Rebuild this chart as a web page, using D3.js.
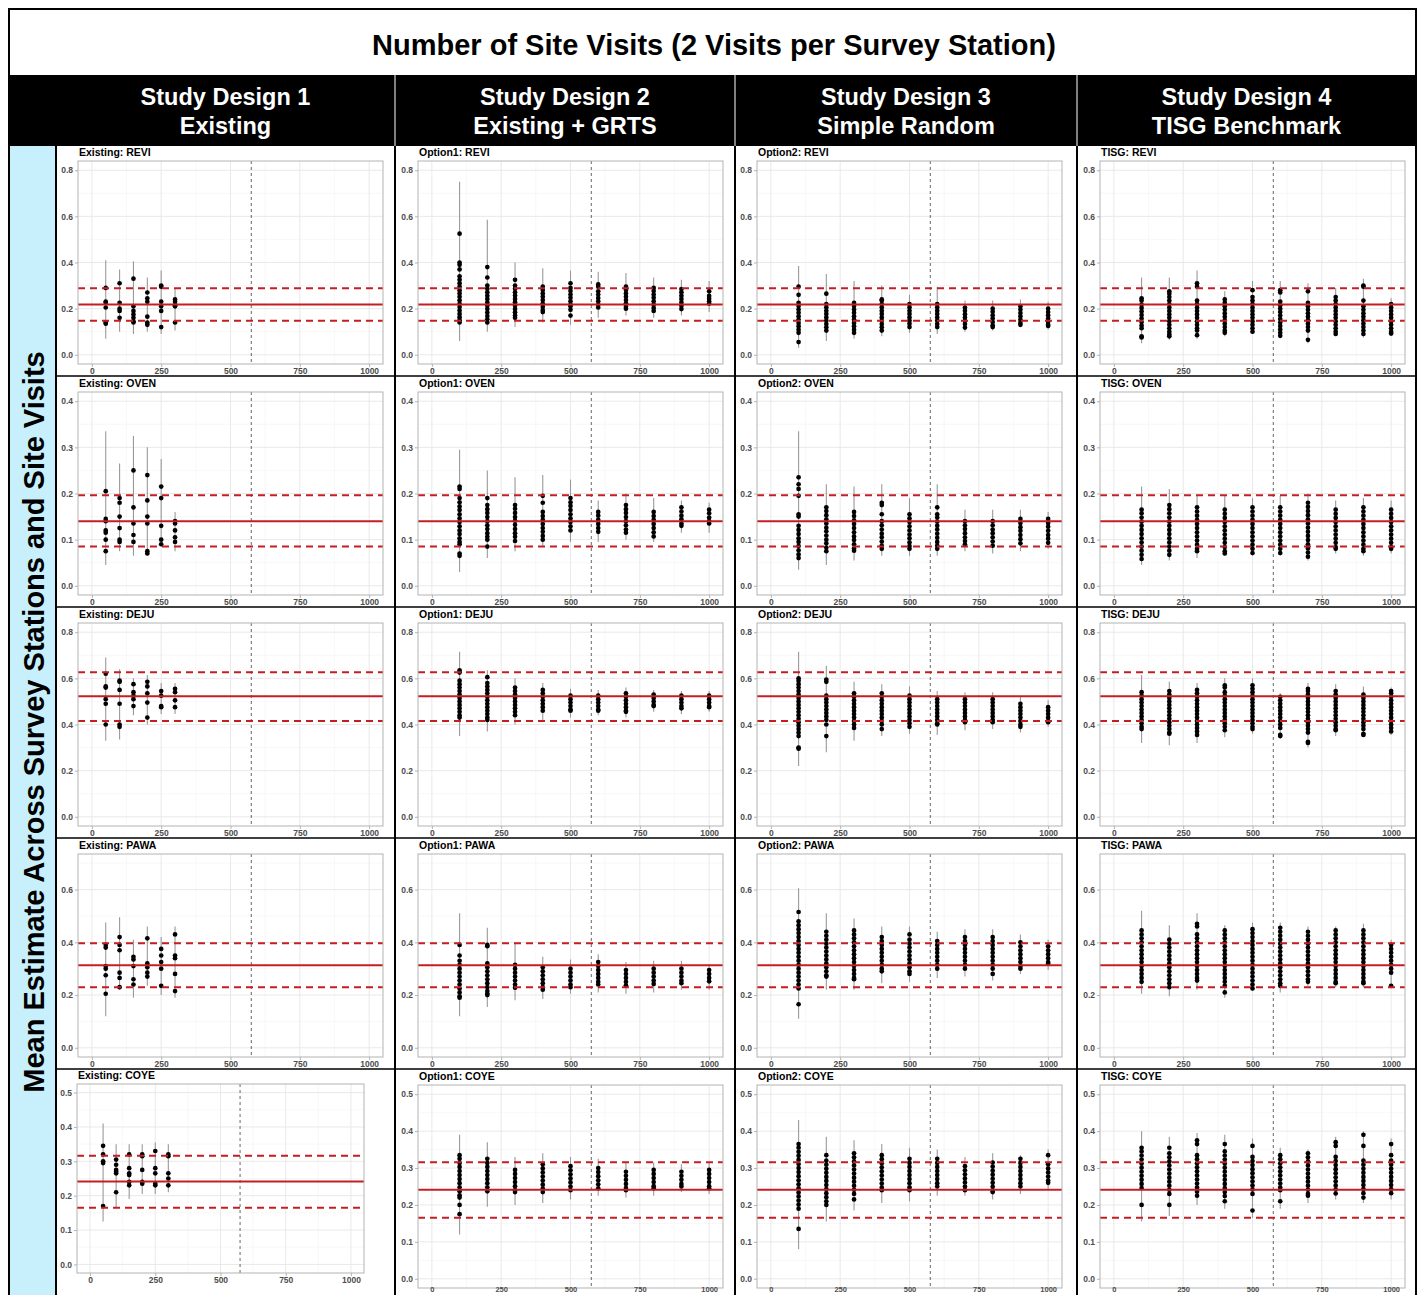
<!DOCTYPE html>
<html lang="en">
<head>
<meta charset="UTF-8">
<title>Number of Site Visits</title>
<script src="https://d3js.org/d3.v7.min.js"></script>
<style>
  body { margin: 0; background: #fff; }
  svg text { font-family: "Liberation Sans", Arial, sans-serif; }
</style>
</head>
<body>
<svg id="chart" width="1421" height="1295"></svg>
<script>
// ---- data ----
const mainTitle = "Number of Site Visits (2 Visits per Survey Station)";
const sideTitle = "Mean Estimate Across Survey Stations and Site Visits";
const designs = ["Existing", "Option1", "Option2", "TISG"];
const designHeads = [["Study Design 1", "Existing"], ["Study Design 2", "Existing + GRTS"],
                     ["Study Design 3", "Simple Random"], ["Study Design 4", "TISG Benchmark"]];
const species = ["REVI", "OVEN", "DEJU", "PAWA", "COYE"];
const yLimit = [0.8, 0.4, 0.8, 0.7, 0.5];
const yTicks = [[0, 0.2, 0.4, 0.6, 0.8], [0, 0.1, 0.2, 0.3, 0.4], [0, 0.2, 0.4, 0.6, 0.8],
                [0, 0.2, 0.4, 0.6], [0, 0.1, 0.2, 0.3, 0.4, 0.5]];
const truth = [0.218, 0.14, 0.522, 0.313, 0.241];
const bandLow = [0.148, 0.085, 0.415, 0.23, 0.165];
const bandHigh = [0.288, 0.196, 0.627, 0.396, 0.316];
const xTicks = [0, 250, 500, 750, 1000];
const cutoff = 575;
const sizesExisting = [50, 100, 150, 200, 250, 300];
const sizesOther = [100, 200, 300, 400, 500, 600, 700, 800, 900, 1000];

// each column: [ci low, ci high, [estimates]]
const existingREVI = [
  [0.07, 0.41, [0.29, 0.23, 0.225, 0.205, 0.14, 0.135]],
  [0.10, 0.37, [0.31, 0.225, 0.2, 0.19, 0.16]],
  [0.09, 0.405, [0.33, 0.21, 0.19, 0.175, 0.16, 0.145, 0.14]],
  [0.10, 0.335, [0.27, 0.245, 0.23, 0.165, 0.14, 0.13]],
  [0.09, 0.365, [0.30, 0.295, 0.23, 0.21, 0.19, 0.12]],
  [0.105, 0.285, [0.24, 0.23, 0.215, 0.21, 0.14]]
];
const existingOVEN = [
  [0.045, 0.335, [0.205, 0.145, 0.14, 0.12, 0.115, 0.10, 0.075]],
  [0.075, 0.265, [0.19, 0.18, 0.15, 0.125, 0.10, 0.095]],
  [0.065, 0.325, [0.25, 0.17, 0.135, 0.11, 0.095]],
  [0.065, 0.30, [0.24, 0.185, 0.15, 0.135, 0.075, 0.07]],
  [0.085, 0.275, [0.215, 0.19, 0.13, 0.10, 0.09]],
  [0.075, 0.16, [0.14, 0.135, 0.12, 0.105, 0.095]]
];
const existingDEJU = [
  [0.33, 0.69, [0.62, 0.565, 0.56, 0.51, 0.49, 0.40]],
  [0.335, 0.64, [0.59, 0.585, 0.55, 0.49, 0.40, 0.39]],
  [0.44, 0.60, [0.575, 0.54, 0.525, 0.51, 0.48]],
  [0.40, 0.615, [0.585, 0.565, 0.535, 0.495, 0.43]],
  [0.445, 0.58, [0.545, 0.525, 0.48, 0.475]],
  [0.445, 0.58, [0.555, 0.54, 0.505, 0.475]]
];
const existingPAWA = [
  [0.12, 0.475, [0.39, 0.38, 0.31, 0.30, 0.275, 0.205]],
  [0.22, 0.495, [0.42, 0.39, 0.37, 0.285, 0.265, 0.23]],
  [0.19, 0.41, [0.345, 0.335, 0.31, 0.26, 0.24]],
  [0.235, 0.46, [0.415, 0.32, 0.305, 0.285, 0.27]],
  [0.20, 0.42, [0.375, 0.35, 0.325, 0.30, 0.235]],
  [0.19, 0.46, [0.43, 0.35, 0.34, 0.28, 0.215]]
];
const existingCOYE = [
  [0.125, 0.41, [0.345, 0.32, 0.30, 0.295, 0.17]],
  [0.165, 0.35, [0.305, 0.29, 0.275, 0.27, 0.265, 0.21]],
  [0.19, 0.35, [0.32, 0.28, 0.265, 0.26, 0.24, 0.23]],
  [0.205, 0.35, [0.32, 0.315, 0.275, 0.24, 0.235]],
  [0.205, 0.355, [0.33, 0.28, 0.265, 0.235, 0.23]],
  [0.21, 0.35, [0.32, 0.315, 0.265, 0.25, 0.23]]
];

const option1REVI = [
  [0.06, 0.75, [0.525, 0.40, 0.39, 0.37, 0.34, 0.325, 0.31, 0.295, 0.28, 0.266, 0.251, 0.236, 0.221, 0.207, 0.192, 0.177, 0.163, 0.15, 0.14]],
  [0.10, 0.585, [0.38, 0.335, 0.30, 0.286, 0.271, 0.256, 0.242, 0.227, 0.212, 0.198, 0.183, 0.168, 0.154, 0.14]],
  [0.12, 0.40, [0.325, 0.30, 0.286, 0.271, 0.257, 0.242, 0.228, 0.213, 0.198, 0.184, 0.17, 0.16]],
  [0.14, 0.375, [0.295, 0.281, 0.266, 0.252, 0.237, 0.222, 0.208, 0.194, 0.185]],
  [0.13, 0.365, [0.31, 0.29, 0.276, 0.261, 0.247, 0.232, 0.218, 0.21, 0.195, 0.17]],
  [0.16, 0.36, [0.305, 0.295, 0.275, 0.261, 0.246, 0.232, 0.217, 0.205]],
  [0.17, 0.355, [0.295, 0.281, 0.266, 0.252, 0.237, 0.223, 0.208, 0.20]],
  [0.16, 0.335, [0.29, 0.276, 0.261, 0.247, 0.232, 0.218, 0.203, 0.19]],
  [0.17, 0.325, [0.285, 0.271, 0.256, 0.242, 0.227, 0.213, 0.198]],
  [0.185, 0.32, [0.275, 0.255, 0.243, 0.232, 0.222]]
];
const option1OVEN = [
  [0.03, 0.295, [0.215, 0.21, 0.19, 0.181, 0.172, 0.164, 0.155, 0.146, 0.138, 0.129, 0.12, 0.112, 0.103, 0.095, 0.09, 0.07, 0.065]],
  [0.06, 0.25, [0.19, 0.175, 0.166, 0.158, 0.149, 0.14, 0.131, 0.123, 0.114, 0.106, 0.10, 0.085]],
  [0.075, 0.235, [0.175, 0.167, 0.158, 0.149, 0.141, 0.132, 0.123, 0.114, 0.106, 0.097]],
  [0.085, 0.24, [0.195, 0.18, 0.16, 0.151, 0.143, 0.134, 0.125, 0.117, 0.108, 0.10]],
  [0.095, 0.23, [0.19, 0.181, 0.173, 0.164, 0.155, 0.146, 0.138, 0.129, 0.12]],
  [0.095, 0.185, [0.16, 0.152, 0.143, 0.134, 0.125, 0.117]],
  [0.10, 0.20, [0.175, 0.166, 0.158, 0.149, 0.14, 0.131, 0.122, 0.115]],
  [0.095, 0.19, [0.16, 0.151, 0.143, 0.134, 0.125, 0.116, 0.107]],
  [0.115, 0.185, [0.17, 0.161, 0.152, 0.144, 0.135, 0.13]],
  [0.115, 0.18, [0.165, 0.157, 0.148, 0.14, 0.135]]
];
const option1DEJU = [
  [0.35, 0.715, [0.635, 0.625, 0.59, 0.575, 0.56, 0.545, 0.53, 0.515, 0.5, 0.485, 0.47, 0.455, 0.44, 0.43]],
  [0.37, 0.635, [0.605, 0.58, 0.565, 0.55, 0.535, 0.52, 0.505, 0.49, 0.475, 0.46, 0.445, 0.43, 0.42]],
  [0.40, 0.60, [0.56, 0.545, 0.53, 0.515, 0.5, 0.485, 0.47, 0.455, 0.44]],
  [0.42, 0.58, [0.55, 0.535, 0.52, 0.505, 0.49, 0.475, 0.46]],
  [0.43, 0.555, [0.525, 0.51, 0.495, 0.48, 0.465, 0.46]],
  [0.44, 0.55, [0.525, 0.51, 0.495, 0.48, 0.465, 0.46]],
  [0.43, 0.56, [0.535, 0.52, 0.505, 0.49, 0.475, 0.46, 0.455]],
  [0.455, 0.55, [0.53, 0.515, 0.5, 0.485, 0.48]],
  [0.445, 0.545, [0.525, 0.51, 0.495, 0.48, 0.47]],
  [0.455, 0.545, [0.525, 0.51, 0.495, 0.48, 0.475]]
];
const option1PAWA = [
  [0.12, 0.51, [0.39, 0.35, 0.33, 0.315, 0.3, 0.285, 0.27, 0.255, 0.24, 0.225, 0.21, 0.195, 0.19]],
  [0.155, 0.455, [0.39, 0.385, 0.32, 0.305, 0.29, 0.275, 0.26, 0.245, 0.23, 0.215, 0.205, 0.20]],
  [0.18, 0.40, [0.315, 0.30, 0.285, 0.27, 0.255, 0.24, 0.228]],
  [0.185, 0.345, [0.305, 0.29, 0.275, 0.26, 0.245, 0.23, 0.22]],
  [0.205, 0.335, [0.30, 0.285, 0.27, 0.255, 0.24, 0.23]],
  [0.21, 0.355, [0.325, 0.31, 0.295, 0.28, 0.265, 0.25, 0.24]],
  [0.205, 0.325, [0.295, 0.28, 0.265, 0.25, 0.237]],
  [0.21, 0.33, [0.30, 0.285, 0.27, 0.255, 0.242]],
  [0.22, 0.33, [0.30, 0.285, 0.27, 0.255, 0.245]],
  [0.22, 0.315, [0.295, 0.28, 0.265, 0.252]]
];
const option1COYE = [
  [0.12, 0.39, [0.335, 0.325, 0.314, 0.303, 0.292, 0.281, 0.27, 0.259, 0.248, 0.237, 0.226, 0.22, 0.20, 0.175]],
  [0.195, 0.37, [0.325, 0.314, 0.303, 0.292, 0.281, 0.27, 0.259, 0.248, 0.237]],
  [0.20, 0.33, [0.295, 0.284, 0.273, 0.262, 0.251, 0.24, 0.235]],
  [0.205, 0.34, [0.31, 0.299, 0.288, 0.277, 0.266, 0.255, 0.244, 0.235]],
  [0.215, 0.33, [0.305, 0.294, 0.283, 0.272, 0.261, 0.25, 0.24]],
  [0.225, 0.325, [0.30, 0.289, 0.278, 0.267, 0.256, 0.245]],
  [0.22, 0.315, [0.29, 0.279, 0.268, 0.257, 0.246, 0.24]],
  [0.225, 0.315, [0.295, 0.284, 0.273, 0.262, 0.251, 0.245]],
  [0.235, 0.31, [0.29, 0.279, 0.268, 0.257, 0.25]],
  [0.23, 0.315, [0.295, 0.284, 0.273, 0.262, 0.251, 0.245]]
];

const option2REVI = [
  [0.03, 0.385, [0.295, 0.26, 0.225, 0.211, 0.196, 0.182, 0.167, 0.153, 0.138, 0.124, 0.109, 0.095, 0.055]],
  [0.06, 0.35, [0.265, 0.22, 0.206, 0.191, 0.177, 0.162, 0.148, 0.133, 0.119, 0.105]],
  [0.07, 0.32, [0.225, 0.211, 0.196, 0.182, 0.167, 0.153, 0.138, 0.124, 0.109, 0.095]],
  [0.08, 0.30, [0.24, 0.235, 0.22, 0.206, 0.191, 0.177, 0.162, 0.148, 0.133, 0.119, 0.105]],
  [0.095, 0.26, [0.22, 0.206, 0.191, 0.177, 0.162, 0.148, 0.134, 0.12]],
  [0.09, 0.295, [0.22, 0.206, 0.191, 0.177, 0.162, 0.148, 0.133, 0.12]],
  [0.10, 0.235, [0.205, 0.191, 0.176, 0.162, 0.147, 0.133, 0.118]],
  [0.105, 0.235, [0.20, 0.186, 0.171, 0.157, 0.142, 0.128, 0.12]],
  [0.12, 0.24, [0.21, 0.196, 0.181, 0.167, 0.152, 0.138, 0.13]],
  [0.11, 0.23, [0.20, 0.185, 0.171, 0.157, 0.143, 0.13, 0.125]]
];
const option2OVEN = [
  [0.035, 0.335, [0.235, 0.22, 0.21, 0.195, 0.155, 0.15, 0.13, 0.121, 0.112, 0.103, 0.095, 0.086, 0.077, 0.068, 0.06]],
  [0.045, 0.22, [0.17, 0.162, 0.153, 0.144, 0.135, 0.126, 0.118, 0.109, 0.1, 0.092, 0.083, 0.075]],
  [0.055, 0.215, [0.16, 0.151, 0.142, 0.134, 0.125, 0.116, 0.107, 0.099, 0.09, 0.081, 0.076]],
  [0.065, 0.22, [0.18, 0.175, 0.155, 0.14, 0.131, 0.122, 0.113, 0.105, 0.096, 0.087, 0.08]],
  [0.065, 0.19, [0.155, 0.146, 0.138, 0.129, 0.12, 0.111, 0.103, 0.094, 0.086, 0.08]],
  [0.065, 0.22, [0.17, 0.155, 0.148, 0.139, 0.13, 0.122, 0.113, 0.104, 0.095, 0.087, 0.08]],
  [0.075, 0.165, [0.14, 0.131, 0.123, 0.114, 0.105, 0.097, 0.09]],
  [0.07, 0.165, [0.14, 0.131, 0.122, 0.114, 0.105, 0.096, 0.087]],
  [0.075, 0.165, [0.145, 0.136, 0.127, 0.119, 0.11, 0.101, 0.092]],
  [0.08, 0.16, [0.145, 0.136, 0.128, 0.119, 0.11, 0.102, 0.093]]
];
const option2DEJU = [
  [0.22, 0.715, [0.60, 0.59, 0.575, 0.56, 0.545, 0.53, 0.515, 0.5, 0.485, 0.47, 0.455, 0.44, 0.425, 0.41, 0.395, 0.38, 0.365, 0.35, 0.30, 0.295]],
  [0.28, 0.655, [0.595, 0.585, 0.525, 0.51, 0.495, 0.48, 0.465, 0.45, 0.435, 0.42, 0.40, 0.35]],
  [0.33, 0.585, [0.535, 0.52, 0.505, 0.49, 0.475, 0.46, 0.445, 0.43, 0.415, 0.40, 0.385]],
  [0.35, 0.575, [0.535, 0.52, 0.505, 0.49, 0.475, 0.46, 0.445, 0.43, 0.415, 0.40, 0.38]],
  [0.36, 0.565, [0.525, 0.51, 0.495, 0.48, 0.465, 0.45, 0.435, 0.42, 0.405, 0.39]],
  [0.355, 0.545, [0.51, 0.495, 0.48, 0.465, 0.45, 0.435, 0.42, 0.405, 0.40]],
  [0.375, 0.54, [0.51, 0.495, 0.48, 0.465, 0.45, 0.435, 0.42, 0.41]],
  [0.38, 0.54, [0.51, 0.495, 0.48, 0.465, 0.45, 0.435, 0.42, 0.41]],
  [0.365, 0.52, [0.49, 0.475, 0.46, 0.445, 0.43, 0.415, 0.40, 0.39]],
  [0.39, 0.505, [0.475, 0.46, 0.445, 0.43, 0.415, 0.41]]
];
const option2PAWA = [
  [0.11, 0.605, [0.515, 0.48, 0.465, 0.45, 0.435, 0.42, 0.405, 0.39, 0.375, 0.36, 0.345, 0.33, 0.315, 0.3, 0.285, 0.27, 0.255, 0.24, 0.225, 0.165]],
  [0.22, 0.51, [0.44, 0.425, 0.41, 0.395, 0.38, 0.365, 0.35, 0.335, 0.32, 0.305, 0.29, 0.275, 0.27]],
  [0.22, 0.49, [0.445, 0.43, 0.415, 0.4, 0.385, 0.37, 0.355, 0.34, 0.325, 0.31, 0.295, 0.28, 0.265, 0.26]],
  [0.245, 0.46, [0.42, 0.405, 0.39, 0.375, 0.36, 0.345, 0.33, 0.315, 0.3, 0.29]],
  [0.25, 0.46, [0.43, 0.41, 0.395, 0.38, 0.365, 0.35, 0.335, 0.32, 0.305, 0.29, 0.28]],
  [0.265, 0.44, [0.405, 0.39, 0.375, 0.36, 0.345, 0.33, 0.315, 0.30]],
  [0.27, 0.45, [0.42, 0.405, 0.39, 0.375, 0.36, 0.345, 0.33, 0.315, 0.30]],
  [0.255, 0.45, [0.42, 0.405, 0.39, 0.375, 0.36, 0.345, 0.33, 0.315, 0.3, 0.28]],
  [0.28, 0.43, [0.40, 0.385, 0.37, 0.355, 0.34, 0.325, 0.31, 0.30]],
  [0.295, 0.41, [0.385, 0.37, 0.355, 0.34, 0.325, 0.32]]
];
const option2COYE = [
  [0.08, 0.43, [0.365, 0.355, 0.344, 0.333, 0.322, 0.311, 0.3, 0.289, 0.278, 0.267, 0.256, 0.245, 0.234, 0.223, 0.212, 0.201, 0.19, 0.135]],
  [0.155, 0.385, [0.335, 0.32, 0.309, 0.298, 0.287, 0.276, 0.265, 0.254, 0.243, 0.232, 0.221, 0.21, 0.20]],
  [0.185, 0.375, [0.34, 0.329, 0.318, 0.307, 0.296, 0.285, 0.274, 0.263, 0.252, 0.241, 0.23, 0.215]],
  [0.205, 0.365, [0.335, 0.324, 0.313, 0.302, 0.291, 0.28, 0.269, 0.258, 0.247, 0.24]],
  [0.21, 0.355, [0.325, 0.314, 0.303, 0.292, 0.281, 0.27, 0.259, 0.248, 0.24]],
  [0.225, 0.35, [0.325, 0.314, 0.303, 0.292, 0.281, 0.27, 0.259, 0.25]],
  [0.225, 0.33, [0.305, 0.294, 0.283, 0.272, 0.261, 0.25, 0.24]],
  [0.215, 0.34, [0.315, 0.304, 0.293, 0.282, 0.271, 0.26, 0.249, 0.238, 0.235]],
  [0.23, 0.335, [0.325, 0.314, 0.303, 0.292, 0.281, 0.27, 0.259, 0.25]],
  [0.24, 0.35, [0.335, 0.31, 0.299, 0.288, 0.277, 0.266, 0.26]]
];

const tisgREVI = [
  [0.05, 0.335, [0.245, 0.235, 0.218, 0.203, 0.188, 0.172, 0.157, 0.142, 0.127, 0.115, 0.08, 0.075]],
  [0.065, 0.335, [0.275, 0.265, 0.25, 0.235, 0.22, 0.205, 0.19, 0.175, 0.16, 0.145, 0.13, 0.115, 0.10, 0.088, 0.08]],
  [0.07, 0.365, [0.31, 0.295, 0.235, 0.22, 0.205, 0.19, 0.175, 0.16, 0.145, 0.13, 0.115, 0.105, 0.085]],
  [0.08, 0.275, [0.24, 0.225, 0.21, 0.195, 0.18, 0.165, 0.15, 0.135, 0.12, 0.105, 0.095]],
  [0.09, 0.32, [0.28, 0.25, 0.235, 0.22, 0.205, 0.19, 0.175, 0.16, 0.145, 0.13, 0.115, 0.10]],
  [0.075, 0.32, [0.28, 0.27, 0.23, 0.215, 0.2, 0.185, 0.17, 0.155, 0.14, 0.125, 0.11, 0.095, 0.082]],
  [0.05, 0.31, [0.275, 0.225, 0.21, 0.195, 0.18, 0.165, 0.15, 0.135, 0.12, 0.105, 0.065]],
  [0.08, 0.29, [0.25, 0.235, 0.22, 0.205, 0.19, 0.175, 0.16, 0.145, 0.13, 0.115, 0.10, 0.09]],
  [0.075, 0.33, [0.30, 0.295, 0.235, 0.21, 0.195, 0.18, 0.165, 0.15, 0.135, 0.12, 0.105, 0.09]],
  [0.09, 0.245, [0.22, 0.205, 0.19, 0.175, 0.16, 0.145, 0.13, 0.115, 0.10, 0.092]]
];
const tisgOVEN = [
  [0.045, 0.215, [0.165, 0.157, 0.148, 0.139, 0.13, 0.121, 0.112, 0.103, 0.094, 0.085, 0.076, 0.067, 0.058]],
  [0.055, 0.21, [0.175, 0.166, 0.157, 0.148, 0.139, 0.13, 0.121, 0.112, 0.103, 0.094, 0.085, 0.076, 0.067]],
  [0.06, 0.195, [0.17, 0.161, 0.152, 0.143, 0.134, 0.125, 0.116, 0.107, 0.098, 0.089, 0.08, 0.075]],
  [0.065, 0.195, [0.165, 0.156, 0.147, 0.138, 0.129, 0.12, 0.111, 0.102, 0.093, 0.084, 0.075, 0.07]],
  [0.065, 0.19, [0.17, 0.161, 0.152, 0.143, 0.134, 0.125, 0.116, 0.107, 0.098, 0.089, 0.08, 0.071]],
  [0.065, 0.195, [0.17, 0.161, 0.152, 0.143, 0.134, 0.125, 0.116, 0.107, 0.098, 0.089, 0.08, 0.071]],
  [0.055, 0.20, [0.18, 0.171, 0.162, 0.153, 0.144, 0.135, 0.126, 0.117, 0.108, 0.099, 0.09, 0.081, 0.072, 0.063]],
  [0.07, 0.185, [0.165, 0.156, 0.147, 0.138, 0.129, 0.12, 0.111, 0.102, 0.093, 0.084, 0.08]],
  [0.065, 0.19, [0.17, 0.161, 0.152, 0.143, 0.134, 0.125, 0.116, 0.107, 0.098, 0.089, 0.08, 0.075]],
  [0.07, 0.185, [0.165, 0.156, 0.147, 0.138, 0.129, 0.12, 0.111, 0.102, 0.093, 0.084, 0.08]]
];
const tisgDEJU = [
  [0.32, 0.615, [0.54, 0.525, 0.51, 0.495, 0.48, 0.465, 0.45, 0.435, 0.42, 0.405, 0.39, 0.38]],
  [0.31, 0.585, [0.545, 0.53, 0.515, 0.5, 0.485, 0.47, 0.455, 0.44, 0.425, 0.41, 0.395, 0.38, 0.365, 0.36]],
  [0.32, 0.58, [0.55, 0.535, 0.52, 0.505, 0.49, 0.475, 0.46, 0.445, 0.43, 0.415, 0.40, 0.385, 0.37, 0.355]],
  [0.345, 0.60, [0.57, 0.56, 0.54, 0.525, 0.51, 0.495, 0.48, 0.465, 0.45, 0.435, 0.42, 0.405, 0.39, 0.375]],
  [0.36, 0.60, [0.57, 0.555, 0.54, 0.525, 0.51, 0.495, 0.48, 0.465, 0.45, 0.435, 0.42, 0.405, 0.39, 0.38]],
  [0.34, 0.535, [0.52, 0.505, 0.49, 0.475, 0.46, 0.445, 0.43, 0.415, 0.40, 0.385, 0.355, 0.35]],
  [0.30, 0.58, [0.555, 0.545, 0.53, 0.515, 0.5, 0.485, 0.47, 0.455, 0.44, 0.425, 0.41, 0.395, 0.38, 0.365, 0.325, 0.32]],
  [0.35, 0.575, [0.545, 0.53, 0.515, 0.5, 0.485, 0.47, 0.455, 0.44, 0.425, 0.41, 0.395, 0.38, 0.375]],
  [0.35, 0.565, [0.53, 0.515, 0.5, 0.485, 0.47, 0.455, 0.44, 0.425, 0.41, 0.395, 0.38, 0.36, 0.355]],
  [0.355, 0.56, [0.545, 0.535, 0.52, 0.505, 0.49, 0.475, 0.46, 0.445, 0.43, 0.415, 0.40, 0.385, 0.37]]
];
const tisgPAWA = [
  [0.205, 0.52, [0.445, 0.43, 0.415, 0.4, 0.385, 0.37, 0.355, 0.34, 0.325, 0.31, 0.295, 0.28, 0.265, 0.25]],
  [0.195, 0.465, [0.41, 0.395, 0.38, 0.365, 0.35, 0.335, 0.32, 0.305, 0.29, 0.275, 0.26, 0.245, 0.23]],
  [0.22, 0.51, [0.47, 0.46, 0.43, 0.415, 0.4, 0.385, 0.37, 0.355, 0.34, 0.325, 0.31, 0.295, 0.28, 0.265, 0.255]],
  [0.19, 0.465, [0.445, 0.43, 0.415, 0.4, 0.385, 0.37, 0.355, 0.34, 0.325, 0.31, 0.295, 0.28, 0.265, 0.25, 0.235, 0.21]],
  [0.215, 0.475, [0.45, 0.435, 0.42, 0.405, 0.39, 0.375, 0.36, 0.345, 0.33, 0.315, 0.3, 0.285, 0.27, 0.255, 0.24, 0.225]],
  [0.21, 0.475, [0.455, 0.44, 0.425, 0.41, 0.395, 0.38, 0.365, 0.35, 0.335, 0.32, 0.305, 0.29, 0.275, 0.26, 0.245, 0.235]],
  [0.235, 0.46, [0.44, 0.425, 0.41, 0.395, 0.38, 0.365, 0.35, 0.335, 0.32, 0.305, 0.29, 0.275, 0.26, 0.25]],
  [0.23, 0.46, [0.445, 0.43, 0.415, 0.4, 0.385, 0.37, 0.355, 0.34, 0.325, 0.31, 0.295, 0.28, 0.265, 0.25, 0.245]],
  [0.23, 0.47, [0.445, 0.43, 0.415, 0.4, 0.385, 0.37, 0.355, 0.34, 0.325, 0.31, 0.295, 0.28, 0.265, 0.25, 0.245]],
  [0.24, 0.41, [0.39, 0.375, 0.36, 0.345, 0.33, 0.315, 0.30, 0.285, 0.235]]
];
const tisgCOYE = [
  [0.155, 0.40, [0.355, 0.345, 0.334, 0.323, 0.312, 0.301, 0.29, 0.279, 0.268, 0.257, 0.246, 0.20]],
  [0.17, 0.385, [0.355, 0.34, 0.329, 0.318, 0.307, 0.296, 0.285, 0.274, 0.263, 0.252, 0.241, 0.23, 0.20]],
  [0.20, 0.395, [0.375, 0.365, 0.335, 0.324, 0.313, 0.302, 0.291, 0.28, 0.269, 0.258, 0.247, 0.236, 0.225]],
  [0.19, 0.39, [0.365, 0.345, 0.334, 0.323, 0.312, 0.301, 0.29, 0.279, 0.268, 0.257, 0.246, 0.235, 0.224, 0.21]],
  [0.165, 0.38, [0.36, 0.33, 0.319, 0.308, 0.297, 0.286, 0.275, 0.264, 0.253, 0.242, 0.23, 0.185]],
  [0.19, 0.355, [0.335, 0.324, 0.313, 0.302, 0.291, 0.28, 0.269, 0.258, 0.247, 0.24, 0.21]],
  [0.205, 0.35, [0.34, 0.329, 0.318, 0.307, 0.296, 0.285, 0.274, 0.263, 0.252, 0.241, 0.23, 0.225]],
  [0.215, 0.385, [0.37, 0.36, 0.33, 0.319, 0.308, 0.297, 0.286, 0.275, 0.264, 0.253, 0.242, 0.231]],
  [0.205, 0.40, [0.39, 0.36, 0.32, 0.309, 0.298, 0.287, 0.276, 0.265, 0.254, 0.243, 0.232, 0.22]],
  [0.215, 0.38, [0.365, 0.335, 0.32, 0.309, 0.298, 0.287, 0.276, 0.265, 0.254, 0.243, 0.232]]
];

// design x species lookup built from the arrays above
const panels = [
  [existingREVI, existingOVEN, existingDEJU, existingPAWA, existingCOYE],
  [option1REVI, option1OVEN, option1DEJU, option1PAWA, option1COYE],
  [option2REVI, option2OVEN, option2DEJU, option2PAWA, option2COYE],
  [tisgREVI, tisgOVEN, tisgDEJU, tisgPAWA, tisgCOYE]
];

// ---- layout ----
const svg = d3.select('#chart');
const colX = [56, 395, 735, 1077, 1416];
const rowTop = 146, rowH = 231;
const red = "#c41e23";

svg.append('rect').attr('width', 1421).attr('height', 1295).attr('fill', '#fff');

// title
svg.append('text')
    .attr('x', 714).attr('y', 55)
    .attr('text-anchor', 'middle')
    .attr('font-size', 29).attr('font-weight', 'bold')
    .text(mainTitle);

// black header band
svg.append('rect').attr('x', 9).attr('y', 75).attr('width', 1407).attr('height', 71).attr('fill', '#000');
designHeads.forEach((lines, i) => {
    const cx = (colX[i] + colX[i + 1]) / 2;
    lines.forEach((t, j) => {
        svg.append('text')
            .attr('x', cx).attr('y', 105 + j * 29)
            .attr('text-anchor', 'middle')
            .attr('fill', '#fff')
            .attr('font-size', 23.5).attr('font-weight', 'bold')
            .text(t);
    });
});
[395, 735, 1077].forEach(x => {
    svg.append('line').attr('x1', x).attr('x2', x).attr('y1', 75).attr('y2', 146)
        .attr('stroke', '#fff').attr('stroke-width', 1);
});

// left strip with side title
svg.append('rect').attr('x', 10).attr('y', 146).attr('width', 46).attr('height', 1150).attr('fill', '#c8f0fc');
svg.append('text')
    .attr('transform', 'translate(44,722) rotate(-90)')
    .attr('text-anchor', 'middle')
    .attr('font-size', 29).attr('font-weight', 'bold')
    .text(sideTitle);

// panels
designs.forEach((design, c) => {
    species.forEach((sp, r) => {
        const cols = panels[c][r];
        const sizes = c === 0 ? sizesExisting : sizesOther;
        const x0 = colX[c], y0 = rowTop + r * rowH;
        let left = x0 + (c % 2 === 0 ? 22 : 23), top = y0 + 15, w = 305, h = 203;
        let titleY = y0 + 10;
        if (c === 0 && r === 4) { left = 77; top = y0 + 14; w = 287; h = 189; titleY = y0 + 9; }

        const lim = yLimit[r];
        const x = d3.scaleLinear().domain([-50, 1050]).range([left, left + w]);
        const y = d3.scaleLinear().domain([-lim * 0.05, lim * 1.05]).range([top + h, top]);
        const g = svg.append('g');

        g.append('text')
            .attr('x', left + 1).attr('y', titleY)
            .attr('font-size', 10.5).attr('font-weight', 'bold')
            .text(`${design}: ${sp}`);

        // grid
        const yt = yTicks[r];
        const step = yt[1] - yt[0];
        const yMinor = yt.map(v => v + step / 2).filter(v => v < lim * 1.05);
        const xMinor = xTicks.slice(0, -1).map(v => v + 125);
        g.selectAll('.ymin').data(yMinor).join('line')
            .attr('x1', left).attr('x2', left + w).attr('y1', d => y(d)).attr('y2', d => y(d))
            .attr('stroke', '#f3f3f3').attr('stroke-width', 0.6);
        g.selectAll('.xmin').data(xMinor).join('line')
            .attr('y1', top).attr('y2', top + h).attr('x1', d => x(d)).attr('x2', d => x(d))
            .attr('stroke', '#f3f3f3').attr('stroke-width', 0.6);
        g.selectAll('.ymaj').data(yt).join('line')
            .attr('x1', left).attr('x2', left + w).attr('y1', d => y(d)).attr('y2', d => y(d))
            .attr('stroke', '#e6e6e6').attr('stroke-width', 0.9);
        g.selectAll('.xmaj').data(xTicks).join('line')
            .attr('y1', top).attr('y2', top + h).attr('x1', d => x(d)).attr('x2', d => x(d))
            .attr('stroke', '#e6e6e6').attr('stroke-width', 0.9);

        // interval bars
        g.selectAll('.ci').data(cols).join('line')
            .attr('x1', (d, i) => x(sizes[i])).attr('x2', (d, i) => x(sizes[i]))
            .attr('y1', d => y(d[0])).attr('y2', d => y(d[1]))
            .attr('stroke', '#999').attr('stroke-width', 1.1);

        // estimates
        const pts = [];
        cols.forEach((d, i) => d[2].forEach(v => pts.push([sizes[i], v])));
        g.selectAll('.pt').data(pts).join('circle')
            .attr('cx', d => x(d[0])).attr('cy', d => y(d[1]))
            .attr('r', 2.35).attr('fill', '#000');

        // cutoff
        g.append('line')
            .attr('x1', x(cutoff)).attr('x2', x(cutoff)).attr('y1', top).attr('y2', top + h)
            .attr('stroke', '#555').attr('stroke-width', 0.9).attr('stroke-dasharray', '3,3');

        // reference lines
        g.append('line')
            .attr('x1', left).attr('x2', left + w).attr('y1', y(truth[r])).attr('y2', y(truth[r]))
            .attr('stroke', red).attr('stroke-width', 2);
        [bandLow[r], bandHigh[r]].forEach(v => {
            g.append('line')
                .attr('x1', left).attr('x2', left + w).attr('y1', y(v)).attr('y2', y(v))
                .attr('stroke', red).attr('stroke-width', 2).attr('stroke-dasharray', '7,5');
        });

        g.append('rect')
            .attr('x', left).attr('y', top).attr('width', w).attr('height', h)
            .attr('fill', 'none').attr('stroke', '#b3b3b3').attr('stroke-width', 1);

        // axes
        const lastRow = r === 4 && c > 0;
        const ya = g.append('g').attr('transform', `translate(${left},0)`)
            .call(d3.axisLeft(y).tickValues(yt).tickFormat(d3.format('.1f')).tickSize(3).tickPadding(2));
        const xa = g.append('g').attr('transform', `translate(0,${top + h})`)
            .call(d3.axisBottom(x).tickValues(xTicks).tickFormat(d3.format('d'))
                .tickSize(lastRow ? 1 : 3).tickPadding(1));
        [ya, xa].forEach(a => {
            a.select('.domain').remove();
            a.selectAll('line').attr('stroke', '#b3b3b3');
            a.selectAll('text').attr('fill', '#4d4d4d').attr('font-size', 8.5).attr('font-weight', 'bold')
                .attr('font-family', '"Liberation Sans", Arial, sans-serif');
        });
        // bottom row labels sit right at the page edge; keep them inside it
        if (lastRow) xa.selectAll('text').attr('y', 0).attr('dy', '0.55em').attr('font-size', 7.5);
    });
});

// black separators
colX.slice(0, 4).forEach(x => {
    svg.append('line').attr('x1', x).attr('x2', x).attr('y1', 146).attr('y2', 1295)
        .attr('stroke', '#000').attr('stroke-width', 2);
});
[1, 2, 3, 4].forEach(r => {
    svg.append('line').attr('x1', 56).attr('x2', 1416)
        .attr('y1', rowTop + r * rowH - 1).attr('y2', rowTop + r * rowH - 1)
        .attr('stroke', '#000').attr('stroke-width', 1.5);
});

// outer frame
svg.append('rect').attr('x', 9).attr('y', 9).attr('width', 1407).attr('height', 1300)
    .attr('fill', 'none').attr('stroke', '#000').attr('stroke-width', 2);
</script>
</body>
</html>
